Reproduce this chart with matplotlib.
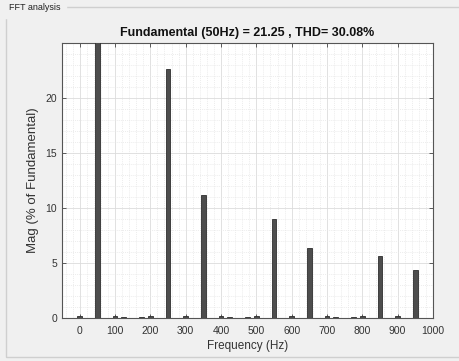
import numpy as np
import matplotlib.pyplot as plt
from matplotlib.patches import Rectangle
from matplotlib.ticker import MultipleLocator

# harmonic spectrum (% of fundamental)
freq = [0, 50, 100, 125, 175, 200, 250, 300, 350, 400, 425, 475, 500,
        550, 600, 650, 700, 725, 775, 800, 850, 900, 950]
mag = [0.15, 100, 0.15, 0.1, 0.1, 0.15, 22.6, 0.15, 11.2, 0.15, 0.1, 0.1, 0.15,
       9.0, 0.15, 6.4, 0.15, 0.1, 0.1, 0.15, 5.6, 0.15, 4.4]
xticks = list(range(0, 1001, 100))
yticks = [0, 5, 10, 15, 20]
title = 'Fundamental (50Hz) = 21.25 , THD= 30.08%'

plt.rcParams['font.family'] = ['Liberation Sans', 'DejaVu Sans']

fig = plt.figure(figsize=(4.6, 3.61), dpi=100)
fig.patch.set_facecolor('#f0f0f0')

# panel frame with title
fig.patches.append(Rectangle((6 / 460, 4 / 361), 1.0, 350 / 361, transform=fig.transFigure,
                             fill=False, edgecolor='#cfcfcf', linewidth=1.0))
fig.text(9 / 460, 1 - 8 / 361, 'FFT analysis', fontsize=6.5, color='#222222',
         va='center', ha='left', backgroundcolor='#f0f0f0')

ax = fig.add_axes([62 / 460, 43 / 361, 371 / 460, 275 / 361])
ax.set_facecolor('white')
ax.bar(freq, mag, width=14, color='#4d4d4d', edgecolor='#2e2e2e', linewidth=0.6, zorder=3)

ax.set_xlim(-50, 1000)
ax.set_ylim(0, 25)
ax.set_xticks(xticks)
ax.set_yticks(yticks)
ax.xaxis.set_minor_locator(MultipleLocator(20))
ax.yaxis.set_minor_locator(MultipleLocator(1))
ax.grid(True, which='major', color='#dcdcdc', linewidth=0.6, zorder=0)
ax.grid(True, which='minor', color='#e6e6e6', linewidth=0.5, linestyle=(0, (1.5, 1.5)), zorder=0)
ax.tick_params(which='both', direction='in', top=True, right=True, colors='#444444',
               labelcolor='#333333', labelsize=7.5)
ax.tick_params(which='major', length=3, width=0.6)
ax.tick_params(axis='x', which='major', pad=6)
ax.tick_params(which='minor', length=0)
for s in ax.spines.values():
    s.set_color('#555555')
    s.set_linewidth(0.8)

ax.set_xlabel('Frequency (Hz)', fontsize=8.5, color='#333333', labelpad=3)
ax.set_ylabel('Mag (% of Fundamental)', fontsize=9.5, color='#333333', labelpad=5)
ax.set_title(title, fontsize=9, fontweight='bold', color='#111111', pad=5)

fig.savefig('out.png', dpi=100, facecolor=fig.get_facecolor())
